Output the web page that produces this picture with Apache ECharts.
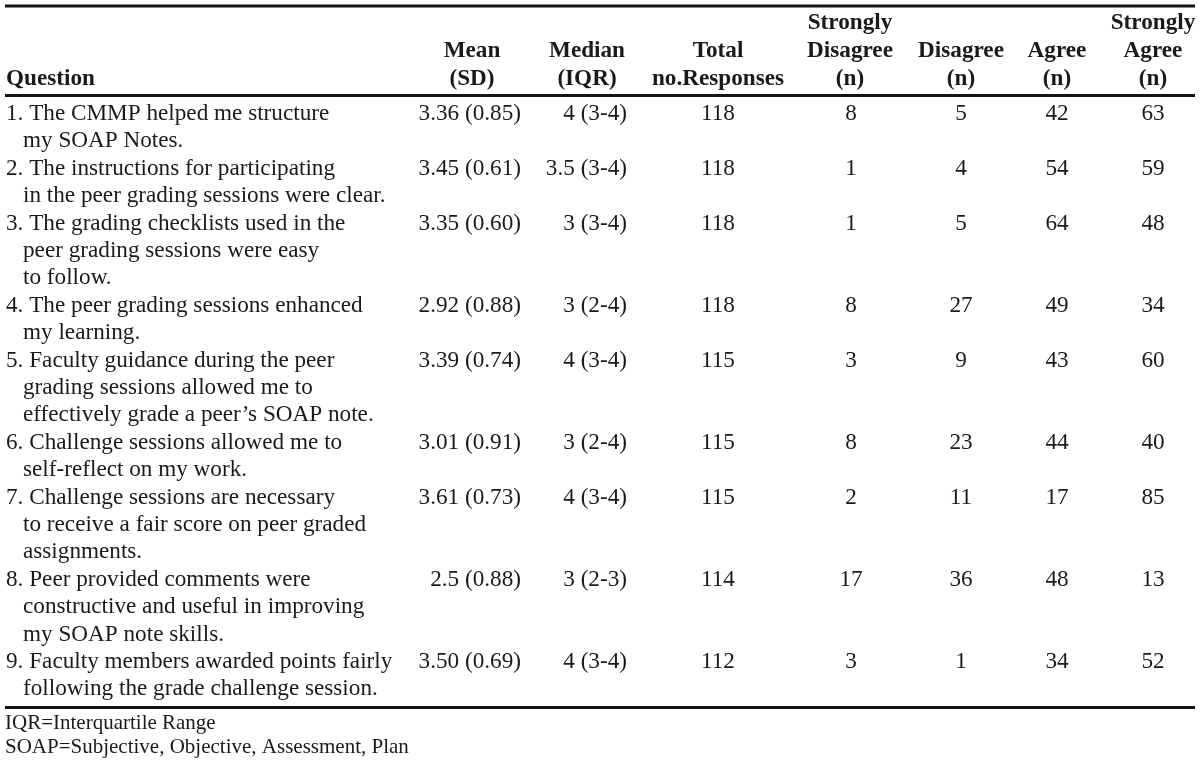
<!DOCTYPE html>
<html>
<head>
<meta charset="utf-8">
<script src="https://cdn.jsdelivr.net/npm/echarts@6/dist/echarts.min.js"></script>
<style>
html,body{margin:0;padding:0;background:#fff;}
#chart{width:1200px;height:764px;}
</style>
</head>
<body>
<div id="chart"></div>
<script>
// ---- Data ----
var questions = [
  ["1. The CMMP helped me structure", "my SOAP Notes."],
  ["2. The instructions for participating", "in the peer grading sessions were clear."],
  ["3. The grading checklists used in the", "peer grading sessions were easy", "to follow."],
  ["4. The peer grading sessions enhanced", "my learning."],
  ["5. Faculty guidance during the peer", "grading sessions allowed me to", "effectively grade a peer\u2019s SOAP note."],
  ["6. Challenge sessions allowed me to", "self-reflect on my work."],
  ["7. Challenge sessions are necessary", "to receive a fair score on peer graded", "assignments."],
  ["8. Peer provided comments were", "constructive and useful in improving", "my SOAP note skills."],
  ["9. Faculty members awarded points fairly", "following the grade challenge session."]
];
var meanSD = ["3.36 (0.85)", "3.45 (0.61)", "3.35 (0.60)", "2.92 (0.88)", "3.39 (0.74)", "3.01 (0.91)", "3.61 (0.73)", "2.5 (0.88)", "3.50 (0.69)"];
var medianIQR = ["4 (3-4)", "3.5 (3-4)", "3 (3-4)", "3 (2-4)", "4 (3-4)", "3 (2-4)", "4 (3-4)", "3 (2-3)", "4 (3-4)"];
var totalResponses = [118, 118, 118, 118, 115, 115, 115, 114, 112];
var stronglyDisagree = [8, 1, 1, 8, 3, 8, 2, 17, 3];
var disagree = [5, 4, 5, 27, 9, 23, 11, 36, 1];
var agree = [42, 54, 64, 49, 43, 44, 17, 48, 34];
var stronglyAgree = [63, 59, 48, 34, 60, 40, 85, 13, 52];
var headers = [
  ["", "", "Question"],
  ["", "Mean", "(SD)"],
  ["", "Median", "(IQR)"],
  ["", "Total", "no.Responses"],
  ["Strongly", "Disagree", "(n)"],
  ["", "Disagree", "(n)"],
  ["", "Agree", "(n)"],
  ["Strongly", "Agree", "(n)"]
];
var footnotes = ["IQR=Interquartile Range", "SOAP=Subjective, Objective, Assessment, Plan"];

// ---- Layout (positions only) ----
var colAnchor = [6, 472, 587, 718, 850, 961, 1057, 1153];
var colHeadAlign = ['left', 'center', 'center', 'center', 'center', 'center', 'center', 'center'];
var valAnchor = [6, 521, 627, 718, 851, 961, 1057, 1153];
var valAlign = ['left', 'right', 'right', 'center', 'center', 'center', 'center', 'center'];
var contIndent = 23;
var headLineY = [23.5, 51.5, 79];
var dataTop = 114, lineH = 27.4;
var footY = [723.5, 747];
var rules = [[6, 3], [95.5, 3], [707.5, 3]];
var ruleX = [5, 1195];
var FONT = '"Liberation Serif","Times New Roman",serif';
var FS = 23.2;
var FS_FOOT = 21;

// build cell items: [x, y, text, align, bold, fontSize]
var cells = [];
headers.forEach(function (h, c) {
  h.forEach(function (t, k) {
    if (t) cells.push([colAnchor[c], headLineY[k], t, colHeadAlign[c], 1, FS]);
  });
});
var lineIdx = 0;
questions.forEach(function (q, r) {
  var y0 = dataTop + lineIdx * lineH;
  q.forEach(function (t, k) {
    cells.push([k === 0 ? valAnchor[0] : contIndent, dataTop + (lineIdx + k) * lineH, t, 'left', 0, FS]);
  });
  var vals = [meanSD[r], medianIQR[r], totalResponses[r], stronglyDisagree[r], disagree[r], agree[r], stronglyAgree[r]];
  vals.forEach(function (v, c) {
    cells.push([valAnchor[c + 1], y0, String(v), valAlign[c + 1], 0, FS]);
  });
  lineIdx += q.length;
});
footnotes.forEach(function (t, k) {
  cells.push([5, footY[k], t, 'left', 0, FS_FOOT]);
});

var ruleData = rules.map(function (r) { return [ruleX[0], r[0], ruleX[1], r[1]]; });

var chart = echarts.init(document.getElementById('chart'), null, { renderer: 'canvas' });
chart.setOption({
  backgroundColor: '#ffffff',
  animation: false,
  grid: { left: 0, right: 0, top: 0, bottom: 0 },
  xAxis: { type: 'value', min: 0, max: 1200, show: false },
  yAxis: { type: 'value', min: 0, max: 764, inverse: true, show: false },
  series: [
    {
      type: 'custom',
      coordinateSystem: 'cartesian2d',
      data: ruleData,
      encode: { x: [0, 2], y: [1] },
      renderItem: function (params, api) {
        var p1 = api.coord([api.value(0), api.value(1)]);
        var p2 = api.coord([api.value(2), api.value(1)]);
        return {
          type: 'line',
          shape: { x1: p1[0], y1: p1[1], x2: p2[0], y2: p2[1] },
          style: { stroke: '#141414', lineWidth: api.value(3) }
        };
      }
    },
    {
      type: 'custom',
      coordinateSystem: 'cartesian2d',
      data: cells,
      encode: { x: 0, y: 1 },
      renderItem: function (params, api) {
        var d = cells[params.dataIndex];
        var p = api.coord([d[0], d[1]]);
        return {
          type: 'text',
          x: p[0], y: p[1],
          style: {
            text: d[2],
            textAlign: d[3],
            textVerticalAlign: 'middle',
            fill: '#1a1a1a',
            font: (d[4] ? 'bold ' : '') + d[5] + 'px ' + FONT
          }
        };
      }
    }
  ]
});
</script>
</body>
</html>
